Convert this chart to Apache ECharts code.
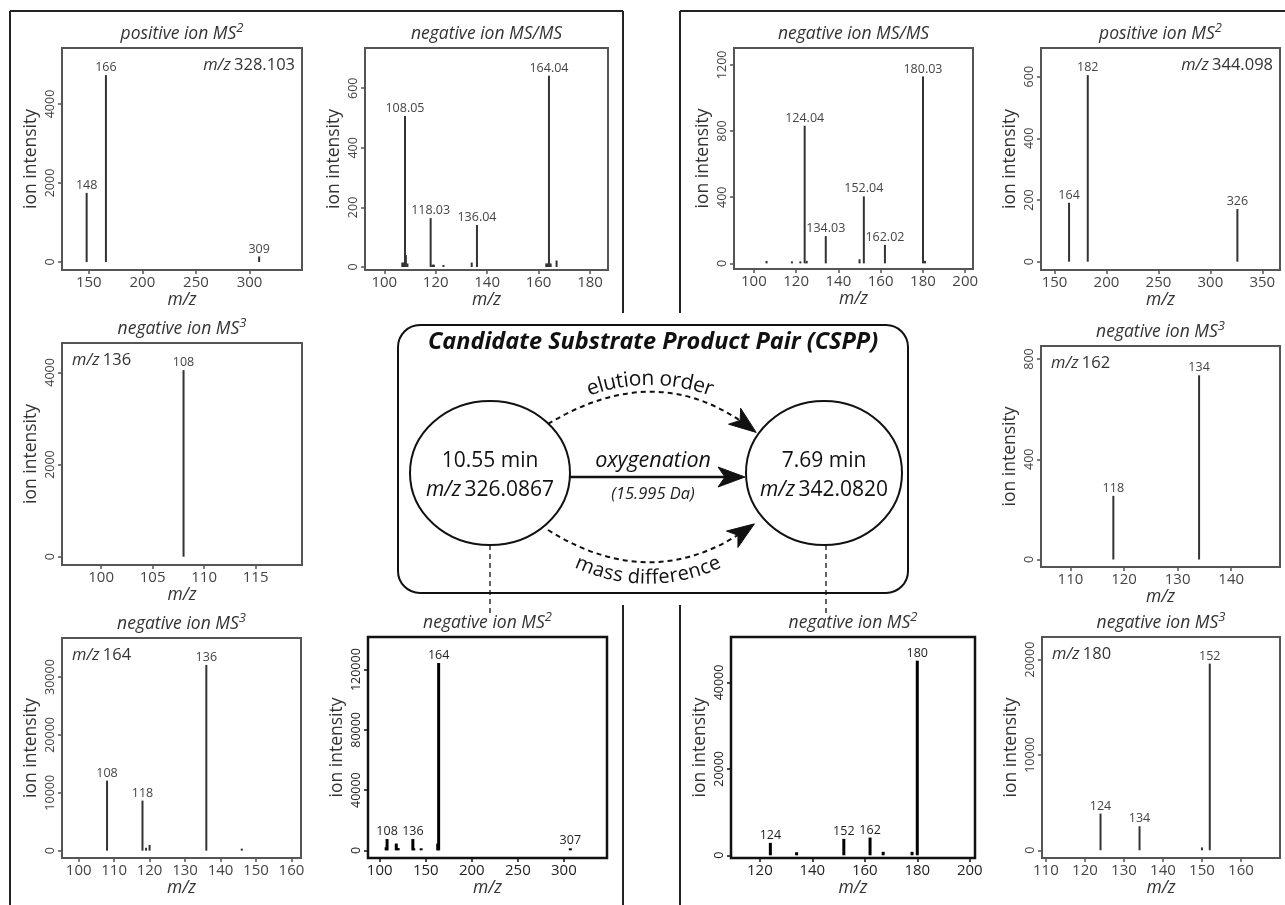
<!DOCTYPE html>
<html><head><meta charset="utf-8">
<script src="https://cdn.jsdelivr.net/npm/echarts@6/dist/echarts.min.js"></script>
<style>html,body{margin:0;padding:0;background:#fff}#chart{width:1285px;height:905px}</style>
</head><body><div id="chart"></div>
<script>
// ---------------- DATA ----------------
// panel titles and precursors
const panelTitles = ['positive ion MS', 'negative ion MS/MS', 'negative ion MS/MS', 'positive ion MS',
  'negative ion MS', 'negative ion MS', 'negative ion MS', 'negative ion MS', 'negative ion MS', 'negative ion MS'];
const panelSup = ['2', '', '', '2', '3', '3', '3', '2', '2', '3'];
const precursors = ['328.103', '', '', '344.098', '136', '162', '164', '', '', '180'];

// P1 positive MS2 m/z 328.103
const p1_mz = [148, 166, 309];
const p1_int = [1750, 4730, 140];
const p1_lab = ['148', '166', '309'];
const p1_xticks = [150, 200, 250, 300];
const p1_yticks = [0, 2000, 4000];

// P2 negative MS/MS (substrate)
const p2_mz = [107.0, 107.6, 108.05, 108.4, 109.0, 118.03, 118.7, 119.3, 123.0, 134.0, 136.04, 163.0, 163.5, 164.04, 164.7, 167.0];
const p2_int = [15, 15, 507, 40, 12, 164, 8, 8, 7, 15, 141, 12, 12, 642, 12, 22];
const p2_lab = ['', '', '108.05', '', '', '118.03', '', '', '', '', '136.04', '', '', '164.04', '', ''];
const p2_xticks = [100, 120, 140, 160, 180];
const p2_yticks = [0, 200, 400, 600];

// P3 negative MS/MS (product)
const p3_mz = [106, 118, 122, 124.04, 125, 134.03, 150, 152.04, 162.02, 180.03, 181];
const p3_int = [15, 12, 12, 832, 15, 165, 25, 405, 112, 1130, 15];
const p3_lab = ['', '', '', '124.04', '', '134.03', '', '152.04', '162.02', '180.03', ''];
const p3_xticks = [100, 120, 140, 160, 180, 200];
const p3_yticks = [0, 400, 800, 1200];

// P4 positive MS2 m/z 344.098
const p4_mz = [164, 182, 326];
const p4_int = [191, 605, 171];
const p4_lab = ['164', '182', '326'];
const p4_xticks = [150, 200, 250, 300, 350];
const p4_yticks = [0, 200, 400, 600];

// P5 negative MS3 m/z 136
const p5_mz = [108];
const p5_int = [4050];
const p5_lab = ['108'];
const p5_xticks = [100, 105, 110, 115];
const p5_yticks = [0, 2000, 4000];

// P6 negative MS3 m/z 162
const p6_mz = [118, 134];
const p6_int = [254, 735];
const p6_lab = ['118', '134'];
const p6_xticks = [110, 120, 130, 140];
const p6_yticks = [0, 400, 800];

// P7 negative MS3 m/z 164
const p7_mz = [108, 118, 119, 120, 136, 146];
const p7_int = [12100, 8650, 500, 1000, 32100, 150];
const p7_lab = ['108', '118', '', '', '136', ''];
const p7_xticks = [100, 110, 120, 130, 140, 150, 160];
const p7_yticks = [0, 10000, 20000, 30000];

// P8 negative MS2 (substrate)
const p8_mz = [107, 108, 118, 120, 136, 137, 145, 163, 164, 307];
const p8_int = [2000, 7500, 4500, 1500, 7500, 1200, 1200, 4500, 124400, 1000];
const p8_lab = ['', '108', '', '', '136', '', '', '', '164', '307'];
const p8_xticks = [100, 150, 200, 250, 300];
const p8_yticks = [0, 40000, 80000, 120000];

// P9 negative MS2 (product)
const p9_mz = [124, 134, 152, 162, 167, 178, 180];
const p9_int = [2870, 700, 3800, 4100, 800, 800, 45050];
const p9_lab = ['124', '', '152', '162', '', '', '180'];
const p9_xticks = [120, 140, 160, 180, 200];
const p9_yticks = [0, 20000, 40000];

// P10 negative MS3 m/z 180
const p10_mz = [124, 134, 150, 152];
const p10_int = [3850, 2520, 300, 19580];
const p10_lab = ['124', '134', '', '152'];
const p10_xticks = [110, 120, 130, 140, 150, 160];
const p10_yticks = [0, 10000, 20000];

// CSPP diagram text
const substrate = { rt: '10.55 min', mz: '326.0867' };
const product = { rt: '7.69 min', mz: '342.0820' };
const relation = { name: 'oxygenation', delta: '(15.995 Da)' };

// ---------------- LAYOUT / STYLE ----------------
const FONT = "'Open Sans', 'Noto Sans', sans-serif";
const mzs = [p1_mz, p2_mz, p3_mz, p4_mz, p5_mz, p6_mz, p7_mz, p8_mz, p9_mz, p10_mz];
const ints = [p1_int, p2_int, p3_int, p4_int, p5_int, p6_int, p7_int, p8_int, p9_int, p10_int];
const labs = [p1_lab, p2_lab, p3_lab, p4_lab, p5_lab, p6_lab, p7_lab, p8_lab, p9_lab, p10_lab];
const xts = [p1_xticks, p2_xticks, p3_xticks, p4_xticks, p5_xticks, p6_xticks, p7_xticks, p8_xticks, p9_xticks, p10_xticks];
const yts = [p1_yticks, p2_yticks, p3_yticks, p4_yticks, p5_yticks, p6_yticks, p7_yticks, p8_yticks, p9_yticks, p10_yticks];

const layout = [
  { g: [62, 48, 240, 222], x: [125, 349], y: [-203, 5418], note: 'right' },
  { g: [365, 48, 243, 222], x: [92.5, 187], y: [-10, 735] },
  { g: [734, 48, 239, 221], x: [90.6, 203.7], y: [-34, 1302] },
  { g: [1041, 48, 239, 222], x: [137, 367], y: [-27, 693], note: 'right' },
  { g: [62, 343, 240, 222], x: [96.2, 119.5], y: [-180, 4638], note: 'left' },
  { g: [1041, 346, 239, 221], x: [104.5, 149.1], y: [-30, 852], note: 'left' },
  { g: [62, 638, 239, 220], x: [95.3, 162.7], y: [-1270, 36750], note: 'left' },
  { g: [368, 637, 239, 221], x: [87.3, 346.8], y: [-5100, 141700], dark: true },
  { g: [731, 637, 244, 221], x: [109, 202], y: [-630, 50530], dark: true },
  { g: [1042, 637, 238, 221], x: [109, 170], y: [-810, 22370], note: 'left' }
];

const grids = [], xAxes = [], yAxes = [], series = [], graphics = [];

layout.forEach((L, i) => {
  const dark = !!L.dark;
  const border = dark ? '#111' : '#555';
  const tcol = dark ? '#222' : '#444';
  grids.push({ left: L.g[0], top: L.g[1], width: L.g[2], height: L.g[3], show: true,
    borderColor: border, borderWidth: dark ? 2.5 : 2, backgroundColor: 'transparent' });
  xAxes.push({ type: 'value', gridIndex: i, min: L.x[0], max: L.x[1],
    axisLine: { show: false, onZero: false }, splitLine: { show: false },
    axisTick: { show: true, length: 4, customValues: xts[i], lineStyle: { color: border, width: 1.5 } },
    axisLabel: { customValues: xts[i], color: tcol, fontSize: 15, fontFamily: FONT, margin: 5, formatter: v => String(v) },
    name: 'm/z', nameLocation: 'middle', nameGap: 19,
    nameTextStyle: { fontStyle: 'italic', fontSize: 17.5, color: '#333', fontFamily: FONT } });
  yAxes.push({ type: 'value', gridIndex: i, min: L.y[0], max: L.y[1],
    axisLine: { show: false, onZero: false }, splitLine: { show: false },
    axisTick: { show: true, length: 4, customValues: yts[i], lineStyle: { color: border, width: 1.5 } },
    axisLabel: { customValues: yts[i], color: tcol, fontSize: 12.5, fontFamily: FONT, margin: 5, rotate: 90, formatter: v => String(v) },
    name: 'ion intensity', nameLocation: 'middle', nameGap: 22, nameRotate: 90,
    nameTextStyle: { fontSize: 17.5, color: '#333', fontFamily: FONT } });

  const labels = labs[i];
  const barCol = dark ? '#000' : '#333';
  const lw = dark ? 3 : 2;
  series.push({
    type: 'custom', xAxisIndex: i, yAxisIndex: i, animation: false,
    data: mzs[i].map((m, k) => [m, ints[i][k]]),
    renderItem: (params, api) => {
      const x = api.value(0), y = api.value(1);
      const p0 = api.coord([x, 0]);
      const p1 = api.coord([x, y]);
      const top = Math.min(p1[1], p0[1] - 2);
      const children = [{ type: 'line', shape: { x1: p0[0], y1: p0[1], x2: p1[0], y2: top },
        style: { stroke: barCol, lineWidth: lw } }];
      const t = labels[params.dataIndex];
      if (t) children.push({ type: 'text', x: p1[0], y: top - 1,
        style: { text: t, fontSize: 12.5, fontFamily: FONT, fill: tcol, textFill: tcol,
          align: 'center', verticalAlign: 'bottom', textAlign: 'center', textVerticalAlign: 'bottom' } });
      return { type: 'group', children };
    }
  });

  // panel title
  const sup = panelSup[i];
  const titleTxt = sup ? '{a|' + panelTitles[i] + '}{s|' + sup + '}' : '{a|' + panelTitles[i] + '}';
  graphics.push({ type: 'text', x: L.g[0] + L.g[2] / 2, y: L.g[1] - 14, silent: true,
    style: { text: titleTxt, align: 'center', verticalAlign: 'middle', textAlign: 'center', textVerticalAlign: 'middle',
      rich: {
        a: { fontSize: 17.5, fontStyle: 'italic', fontFamily: FONT, fill: '#333', textFill: '#333', lineHeight: 24 },
        s: { fontSize: 13, fontStyle: 'italic', fontFamily: FONT, fill: '#333', textFill: '#333', lineHeight: 13, verticalAlign: 'top' }
      } } });
  // precursor note
  if (precursors[i]) {
    const right = L.note === 'right';
    graphics.push({ type: 'text', x: right ? L.g[0] + L.g[2] - 7 : L.g[0] + 10, y: L.g[1] + 17, silent: true,
      style: { text: '{i|m/z} {n|' + precursors[i] + '}', align: right ? 'right' : 'left', verticalAlign: 'middle',
        textAlign: right ? 'right' : 'left', textVerticalAlign: 'middle',
        rich: {
          i: { fontSize: 16.5, fontStyle: 'italic', fontFamily: FONT, fill: '#333', textFill: '#333' },
          n: { fontSize: 16.5, fontFamily: FONT, fill: '#333', textFill: '#333' }
        } } });
  }
});

// --------- frame lines ---------
const frameCol = '#222';
[[10, 11, 623, 11], [10, 11, 10, 905], [623, 11, 623, 313], [623, 605, 623, 905],
 [680, 11, 1285, 11], [680, 11, 680, 313], [680, 605, 680, 905]].forEach(s => {
  graphics.push({ type: 'line', silent: true, shape: { x1: s[0], y1: s[1], x2: s[2], y2: s[3] },
    style: { stroke: frameCol, lineWidth: 2 } });
});

// --------- CSPP diagram ---------
const ink = '#111';
graphics.push({ type: 'rect', silent: true, shape: { x: 398, y: 325, width: 510, height: 268, r: 22 },
  style: { fill: '#fff', stroke: ink, lineWidth: 2 } });
graphics.push({ type: 'text', x: 653, y: 342, silent: true,
  style: { text: 'Candidate Substrate Product Pair (CSPP)', fontSize: 23.5, fontWeight: 'bold', fontStyle: 'italic',
    fontFamily: FONT, fill: ink, textFill: ink, align: 'center', verticalAlign: 'middle', textAlign: 'center', textVerticalAlign: 'middle' } });

function ellipse(cx, cy, rx, ry) {
  return { type: 'ellipse', silent: true, shape: { cx, cy, rx, ry }, style: { fill: '#fff', stroke: ink, lineWidth: 2 } };
}
graphics.push(ellipse(490, 473, 80, 72));
graphics.push(ellipse(824, 473, 78, 72));
function nodeText(cx, d) {
  graphics.push({ type: 'text', x: cx, y: 461, silent: true,
    style: { text: d.rt, fontSize: 21, fontFamily: FONT, fill: ink, textFill: ink, align: 'center', verticalAlign: 'middle', textAlign: 'center', textVerticalAlign: 'middle' } });
  graphics.push({ type: 'text', x: cx, y: 490, silent: true,
    style: { text: '{i|m/z} {n|' + d.mz + '}', align: 'center', verticalAlign: 'middle', textAlign: 'center', textVerticalAlign: 'middle',
      rich: { i: { fontSize: 21, fontStyle: 'italic', fontFamily: FONT, fill: ink, textFill: ink },
              n: { fontSize: 21, fontFamily: FONT, fill: ink, textFill: ink } } } });
}
nodeText(490, substrate);
nodeText(824, product);

function arrowHead(tip, ang, len, half, notch) {
  const c = Math.cos(ang), s = Math.sin(ang);
  const bx = tip[0] - len * c, by = tip[1] - len * s;
  const a = [bx - half * s, by + half * c], b = [bx + half * s, by - half * c];
  const n = [tip[0] - (len - notch) * c, tip[1] - (len - notch) * s];
  return { type: 'polygon', silent: true, shape: { points: [tip, a, n, b] }, style: { fill: ink, stroke: ink, lineWidth: 1 } };
}
// solid arrow
graphics.push({ type: 'line', silent: true, shape: { x1: 570, y1: 477, x2: 730, y2: 477 }, style: { stroke: ink, lineWidth: 2.5 } });
graphics.push(arrowHead([745, 477], 0, 27, 10, 7));
graphics.push({ type: 'text', x: 653, y: 461, silent: true,
  style: { text: relation.name, fontSize: 21.5, fontStyle: 'italic', fontFamily: FONT, fill: ink, textFill: ink, align: 'center', verticalAlign: 'middle', textAlign: 'center', textVerticalAlign: 'middle' } });
graphics.push({ type: 'text', x: 653, y: 494, silent: true,
  style: { text: relation.delta, fontSize: 16.5, fontStyle: 'italic', fontFamily: FONT, fill: '#222', textFill: '#222', align: 'center', verticalAlign: 'middle', textAlign: 'center', textVerticalAlign: 'middle' } });

// dashed curved arrows
function dashedCurve(p0, c, p2) {
  graphics.push({ type: 'bezierCurve', silent: true,
    shape: { x1: p0[0], y1: p0[1], cpx1: c[0], cpy1: c[1], x2: p2[0], y2: p2[1] },
    style: { stroke: ink, lineWidth: 2, lineDash: [5, 4], fill: 'none' } });
  const ang = Math.atan2(p2[1] - c[1], p2[0] - c[0]);
  const tip = [p2[0] + 9 * Math.cos(ang), p2[1] + 9 * Math.sin(ang)];
  graphics.push(arrowHead(tip, ang, 27, 10, 7));
}
dashedCurve([548, 424], [657, 358], [749, 427]);
dashedCurve([548, 530], [652, 595], [747, 529]);

// curved text
const mctx = document.createElement('canvas').getContext('2d');
function arcText(str, cx, cy, R, top, size) {
  mctx.font = size + "px 'Open Sans'";
  const ws = Array.from(str).map(ch => mctx.measureText(ch).width);
  const W = ws.reduce((a, b) => a + b, 0);
  let cum = 0;
  Array.from(str).forEach((ch, k) => {
    const sPos = cum + ws[k] / 2 - W / 2;
    cum += ws[k];
    const t = sPos / R;
    const x = cx + R * Math.sin(t);
    const y = top ? cy - R * Math.cos(t) : cy + R * Math.cos(t);
    const rot = top ? -t : t;
    graphics.push({ type: 'text', x, y, rotation: rot, silent: true,
      style: { text: ch, fontSize: size, fontFamily: FONT, fill: ink, textFill: ink,
        align: 'center', verticalAlign: 'middle', textAlign: 'center', textVerticalAlign: 'middle' } });
  });
}
arcText('elution order', 650, 559, 180, true, 21);
arcText('mass difference', 648, 412, 166, false, 20);

// dashed connectors to MS2 panels
[[490, 545, 490, 613], [826, 545, 826, 613]].forEach(s => {
  graphics.push({ type: 'line', silent: true, shape: { x1: s[0], y1: s[1], x2: s[2], y2: s[3] },
    style: { stroke: ink, lineWidth: 1.3, lineDash: [5, 4] } });
});

const chart = echarts.init(document.getElementById('chart'), null, { renderer: 'canvas' });
chart.setOption({
  backgroundColor: '#fff',
  animation: false,
  textStyle: { fontFamily: FONT },
  grid: grids, xAxis: xAxes, yAxis: yAxes, series,
  graphic: { elements: graphics }
});
</script></body></html>
